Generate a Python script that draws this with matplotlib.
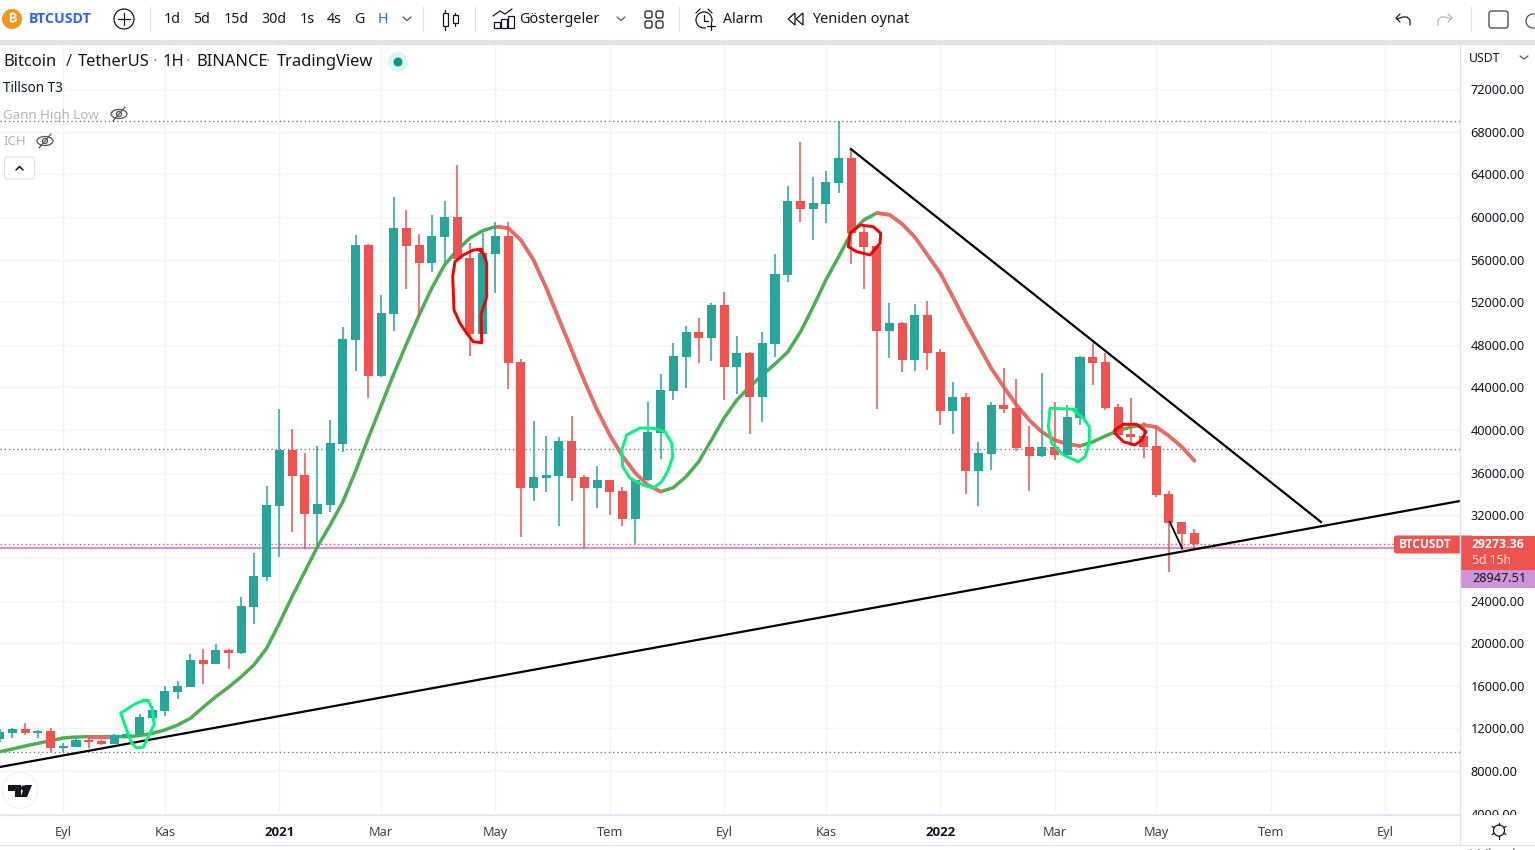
import matplotlib
matplotlib.use("Agg")
import matplotlib.pyplot as plt
from matplotlib.patches import Circle, Rectangle, FancyBboxPatch, Ellipse, Polygon
from matplotlib.transforms import Bbox, TransformedBbox
import numpy as np

plt.rcParams['font.family'] = ['Noto Sans', 'DejaVu Sans']
BOLD_FONT = ['Open Sans', 'DejaVu Sans']

# ---------- data ----------
first_index = -5
opens = [10980,11600,11940,11600,11760,10160,10290,10940,10820,10540,11190,11380,13000,13630,15420,15880,18420,18040,19360,19070,23390,26210,32870,38120,35780,32120,32960,38690,48450,57360,45070,50890,58960,57360,55670,58110,59990,56140,49010,56520,58210,46380,34560,35500,35680,38970,35590,34560,35310,34280,31650,35310,39720,43660,46850,49200,48630,51730,45910,47230,43100,48070,54550,61490,60740,61210,63180,65530,58580,57270,49290,50040,46570,50790,47320,41780,43100,36150,37750,42350,42070,38410,37560,38410,37660,41130,46850,46380,42160,39630,39440,38500,34000,31370,30340]
highs = [11940,12070,12530,11850,12040,10600,11170,11350,10910,11470,11570,13350,14100,15980,16450,18980,19450,19920,19450,24330,28460,34750,41970,40090,37840,38500,40940,49670,58300,57460,52670,61870,60650,58390,60180,61490,64870,57550,58490,59520,59520,46660,40850,39440,39340,41320,35780,36620,35310,34650,35310,42630,45260,48170,49760,50510,51920,52950,48820,47320,49200,56520,62900,67030,63740,64310,69000,66460,59240,57270,51920,50140,51830,52110,47600,44510,43470,38880,42630,45820,44790,40380,45350,42630,42350,46950,48170,47230,42440,43000,40750,40470,34280,31370,30710]
lows = [10720,11100,11380,11100,9810,9810,10290,10160,10410,10540,11100,11380,13000,13190,14760,15880,16170,18040,17570,18980,21800,25830,28080,30430,28830,29120,32310,37940,45540,43000,44970,49290,53230,50600,54830,55480,55950,46950,49010,52860,43850,29960,33340,34180,30990,33340,28830,32680,32020,30990,29300,35220,37280,42820,43940,46290,46480,42820,43380,39630,40750,46850,53890,59520,57830,59430,62240,55580,53230,41970,46760,45440,45540,45630,40470,39630,34000,32870,36250,41600,38030,34280,37470,37190,37660,40470,44220,41880,39440,38500,37370,33710,26680,28740,28830]
closes = [11690,11940,11570,11780,10190,10350,10910,10750,10540,11350,11470,13070,13730,15510,15980,18420,18040,19360,19070,23490,26300,32960,38120,35680,32120,33060,38780,48540,57360,45070,50980,58960,57270,55670,58210,59990,56050,49010,56610,58210,46290,34560,35590,35780,38970,35500,34560,35310,34180,31650,35310,39810,43750,46950,49200,48630,51730,45910,47230,43100,48170,54640,61490,60740,61300,63270,65530,58490,57170,49290,50040,46570,50790,47230,41780,43100,36150,37840,42350,41970,38310,37560,38410,37660,41220,46850,46290,42070,39530,39340,38410,33900,31280,30240,29270]
tillson = [9810,10070,10350,10600,10845,11100,11190,11220,11220,11220,11220,11315,11540,11850,12320,12950,13980,14970,15860,16850,17950,19520,21860,24360,26700,29050,31090,33270,36150,39250,42250,45260,48070,50790,53330,55480,56890,58020,58700,59080,58960,57830,55950,53330,50420,47510,44600,41880,39530,37560,35970,34840,34210,34590,35620,37030,39060,41130,42820,44040,45160,46190,47320,49200,51540,54080,56240,58490,59710,60360,60200,59330,58110,56420,54730,52480,50140,47980,45820,44040,42350,40940,39810,39060,38690,38500,38880,39440,39940,40280,40470,40280,39440,38430,37120]
tillson_red_spans = [(2, 4), (34, 47), (64, 80), (85, 89)]

price_ticks = list(range(4000, 76000, 4000))
month_ticks = [0, 8, 17, 25, 34, 43, 52, 60, 69, 78, 86, 95, 104]
month_labels = ['Eyl', 'Kas', '2021', 'Mar', 'May', 'Tem', 'Eyl', 'Kas', '2022', 'Mar', 'May', 'Tem', 'Eyl']

levels_dotted = [68980, 38190, 9740]
last_price = 29273.36
gann_price = 28947.51

support_x = [-4.98, 109.9]
support_y = [8380, 33340]
resistance_x = [61.97, 98.96]
resistance_y = [66370, 31370]
short_x = [87.07, 88.02]
short_y = [31370, 28930]

# ---------- colours ----------
UP = '#26a69a'; DOWN = '#ef5350'
T3_UP = '#4caf50'; T3_DOWN = '#f86464'
GRID = '#f0f3fa'; SEP = '#e0e3eb'; TXT = '#131722'; MUTED = '#b2b5be'
PURPLE = '#ce93d8'; SCRIB_G = '#00f57f'; SCRIB_R = '#f50000'; BLUE = '#2962ff'

W, H = 1535, 850
fig = plt.figure(figsize=(W / 100, H / 100), dpi=100, facecolor='white')

# ---------- main chart ----------
top, bot, right = 44, 814.5, 1460
ax = fig.add_axes([0, 1 - bot / H, right / W, (bot - top) / H])
ax.set_xlim(-4.98, 109.9)
ax.set_ylim(80352 - 93.84 * bot, 80352 - 93.84 * top)
for s in ax.spines.values():
    s.set_visible(False)
ax.set_axisbelow(True)
ax.grid(True, color=GRID, lw=1.0)
ax.yaxis.tick_right()
ax.set_yticks(price_ticks)
ax.set_yticklabels([f'{p}.00' for p in price_ticks], fontsize=9.2, color=TXT)
ax.set_xticks(month_ticks)
ax.set_xticklabels(month_labels, fontsize=9.2, color='#3c4048')
ax.tick_params(axis='both', length=0)
ax.tick_params(axis='y', pad=7.5)
ax.tick_params(axis='x', pad=8)
for lab, txt in zip(ax.get_xticklabels(), month_labels):
    if txt.isdigit():
        lab.set_family(BOLD_FONT)
        lab.set_fontweight('bold')
        lab.set_fontsize(9.6)
        lab.set_color(TXT)
clip = TransformedBbox(Bbox([[0, (H - 815) / H], [1, 1]]), fig.transFigure)
for lab in ax.get_yticklabels():
    lab.set_clip_box(clip)
    lab.set_clip_on(True)

for lv in levels_dotted:
    ax.axhline(lv, color='#787b86', lw=1.0, ls=(0, (1, 2)), zorder=1.5)
ax.axhline(gann_price, color=PURPLE, lw=1.6, zorder=1.6)
ax.axhline(last_price, color=DOWN, lw=1.0, ls=(0, (1, 2)), zorder=1.6)

idx = np.arange(first_index, first_index + len(opens))
o, h, l, c = map(np.array, (opens, highs, lows, closes))
colors = [UP if cc >= oo else DOWN for oo, cc in zip(o, c)]

t3 = np.array(tillson)
ax.plot(idx, t3, color=T3_UP, lw=2.5, zorder=2, solid_capstyle='round', solid_joinstyle='round')
for a, b in tillson_red_spans:
    m = (idx >= a) & (idx <= b)
    ax.plot(idx[m], t3[m], color=T3_DOWN, lw=2.5, zorder=2.1, solid_capstyle='round', solid_joinstyle='round')

ax.vlines(idx, l, h, colors=colors, lw=1.1, zorder=3)
ax.bar(idx, np.abs(c - o), bottom=np.minimum(o, c), width=0.71, color=colors, lw=0, zorder=3.1)

ax.plot(support_x, support_y, color='black', lw=1.6, zorder=4, clip_on=True)
ax.plot(resistance_x, resistance_y, color='black', lw=1.6, zorder=4)
ax.plot(short_x, short_y, color='black', lw=1.3, zorder=4)

# ---------- overlay drawn in screen pixels (chrome and hand-drawn marks) ----------
ov = fig.add_axes([0, 0, 1, 1], zorder=10)
ov.set_xlim(0, W); ov.set_ylim(H, 0); ov.axis('off'); ov.patch.set_alpha(0)

def T(x, y, s, size=10, color=TXT, ha='left', weight='normal', **k):
    ov.text(x, y, s, fontsize=size, color=color, ha=ha, va='center', fontweight=weight, **k)

def L(xs, ys, color=TXT, lw=1.0, **k):
    ov.plot(xs, ys, color=color, lw=lw, solid_capstyle='round', **k)

# scribbles
scribbles = [
    (SCRIB_G, [(146.7,700),(136.7,703),(120.7,713),(126.7,730),(131.7,743),(136.7,748),(143.3,747),(150,733),(154,725),(152.7,710),(148.3,700.7),(143,700)]),
    (SCRIB_R, [(481.7,249.3),(473.3,250),(463.3,255),(455,261.7),(452.7,276.7),(454,310),(460,323.3),(466.7,333.3),(473.3,341.7),(481.7,342.7),(481,315),(486.7,296.7),(486.7,263.3),(483.3,253.3),(478.3,249.3)]),
    (SCRIB_G, [(653.3,428.3),(640,428),(626.7,435),(621.7,450),(622.7,466.7),(630,478.3),(643.3,485),(653.3,488.3),(661.7,481.7),(668.3,470),(672.7,456.7),(671.7,443.3),(665,431.7),(653.3,428.3)]),
    (SCRIB_R, [(848.3,246.7),(850,233.3),(860,225),(873.3,226.7),(880.7,233.3),(880,243.3),(870,255),(856.7,251.7),(848.3,246.7)]),
    (SCRIB_G, [(1076.7,409.3),(1050,408.3),(1048.3,426.7),(1051.7,443.3),(1063.3,455),(1078.3,461.7),(1085,456.7),(1089.3,443.3),(1089.3,426.7),(1083.3,418.3),(1073.3,410)]),
    (SCRIB_R, [(1115,430),(1123.3,424.3),(1136.7,424.3),(1146,431.7),(1141.7,440),(1135,445),(1123.3,441.7),(1115,433.3),(1115,430)]),
]
for col, pts in scribbles:
    xs, ys = zip(*pts)
    L(xs, ys, color=col, lw=2.1, solid_joinstyle='round')

# frame
ov.add_patch(Rectangle((0, 0), W, 40, fc='white', ec='none'))
ov.add_patch(Rectangle((0, 40), W, 4.5, fc=SEP, ec='none'))
L([0, 1460], [814.8, 814.8], color=SEP, lw=1.0)
L([1460, 1460], [44, 845], color=SEP, lw=1.0)
L([0, W], [845.3, 845.3], color=SEP, lw=1.0)
ov.add_patch(Rectangle((0, 846), W, 4, fc='white', ec='none'))
T(1470, 858, 'Wind', size=14, color='#9a9a9a')

# toolbar
ov.add_patch(Circle((12, 19), 10, fc='#f7931a', ec='none'))
T(12, 19, '₿', size=9, color='white', ha='center', weight='bold', family=['Inter', 'Roboto', 'Lato', 'Open Sans', 'DejaVu Sans'])
T(29, 19, 'BTCUSDT', size=10.2, color=BLUE, weight='bold', family=BOLD_FONT)
ov.add_patch(Circle((124, 19), 10, fc='none', ec=TXT, lw=0.9))
L([118, 130], [19, 19], lw=0.9); L([124, 124], [13, 25], lw=0.9)
for x in (150, 423, 475, 679, 1471):
    L([x, x], [7, 31], color=SEP, lw=0.9)
for s, x, col in [('1d', 172.5, TXT), ('5d', 202, TXT), ('15d', 236, TXT), ('30d', 274, TXT),
                  ('1s', 307, TXT), ('4s', 334, TXT), ('G', 359, TXT), ('H', 383, BLUE)]:
    T(x, 19.5, s, size=10.2, color=col, ha='center')
for cx in (407, 621):
    L([cx - 4, cx, cx + 4], [17, 20.5, 17], color='#50535e', lw=0.9)
L([1520, 1524, 1528], [56, 59, 56], color='#50535e', lw=0.9)
# candle icon
for cx, y0, y1, b0, b1 in [(445, 10, 30, 13, 26), (455, 13, 26, 15, 23)]:
    L([cx, cx], [y0, y1], lw=0.9)
    ov.add_patch(Rectangle((cx - 2.5, b0), 5, b1 - b0, fc='white', ec=TXT, lw=0.9, zorder=5))
# indicators icon
for x0, hh in [(494, 6), (501, 9), (508, 12)]:
    ov.add_patch(Rectangle((x0, 28 - hh), 6, hh, fc='white', ec=TXT, lw=0.9))
L([493, 500, 505, 512], [16, 11, 14, 9], lw=0.9)
T(519, 19.5, 'Göstergeler', size=10.4)
for x0 in (645, 656):
    for y0 in (11, 21):
        ov.add_patch(FancyBboxPatch((x0 + 1, y0 + 1), 5, 5, boxstyle='round,pad=1,rounding_size=2', fc='none', ec=TXT, lw=0.9))
# alarm
ov.add_patch(Circle((704, 20), 8, fc='none', ec=TXT, lw=0.9))
L([704, 704, 708], [15, 21, 21], lw=0.9)
L([696, 700], [13, 9], lw=0.9); L([708, 712], [9, 13], lw=0.9)
ov.add_patch(Rectangle((706, 22), 10, 8, fc='white', ec='none'))
L([711, 711], [22, 30], lw=0.9); L([707, 715], [26, 26], lw=0.9)
T(723, 19.5, 'Alarm', size=10.2)
for dx in (788, 796):
    ov.add_patch(Polygon([(dx + 7, 13), (dx, 19), (dx + 7, 25)], closed=True, fc='none', ec=TXT, lw=0.9))
T(812, 19.5, 'Yeniden oynat', size=10.4)
# undo / redo / layout / cloud
L([1397, 1403, 1407, 1410, 1410], [19, 17, 17, 20, 25], lw=0.9)
L([1400, 1396, 1400], [14, 18, 22], lw=0.9)
L([1451, 1445, 1441, 1438, 1438], [19, 17, 17, 20, 25], color=MUTED, lw=0.9)
L([1448, 1452, 1448], [14, 18, 22], color=MUTED, lw=0.9)
ov.add_patch(FancyBboxPatch((1489, 11), 19, 17, boxstyle='round,pad=0,rounding_size=2.5', fc='none', ec='#50535e', lw=1.0))
ov.add_patch(Circle((1533, 21), 7, fc='none', ec='#50535e', lw=0.9))

# legend
TS = 11.9
T(3, 61.5, 'Bitcoin', size=TS)
T(66, 61.5, '/', size=TS, color='#2a2e39')
T(78, 61.5, 'TetherUS', size=TS)
T(153, 61.5, '·', size=TS, color='#9598a1')
T(163, 61.5, '1H', size=TS)
T(186, 61.5, '·', size=TS, color='#9598a1')
T(196, 61.5, 'BINANCE', size=TS)
T(266, 61.5, '·', size=TS, color='#9598a1')
T(277, 61.5, 'TradingView', size=TS)
ov.add_patch(Circle((398, 62), 10, fc='#e0f3ef', ec='none'))
ov.add_patch(Circle((398, 62), 4.5, fc='#089981', ec='none'))
T(3, 88.5, 'Tillson T3', size=9.8)
T(3, 115, 'Gann High Low', size=9.6, color=MUTED)
T(3, 141.5, 'ICH', size=9.6, color=MUTED)
for cx, cy in [(119, 114), (45, 141)]:
    ov.add_patch(Ellipse((cx, cy), 16, 9, fc='none', ec='#50535e', lw=0.9))
    ov.add_patch(Circle((cx, cy), 2.5, fc='none', ec='#50535e', lw=0.9))
    L([cx - 6, cx + 6], [cy + 7, cy - 7], color='#50535e', lw=0.9)
ov.add_patch(FancyBboxPatch((4.5, 157), 30, 22, boxstyle='round,pad=0,rounding_size=2.5', fc='white', ec=SEP, lw=0.9))
L([16, 19.5, 23], [170, 166.5, 170], lw=1.1)

# TV logo
ov.add_patch(Circle((20, 790.5), 18, fc='white', ec=GRID, lw=1.0))
ov.add_patch(Polygon([(8, 785), (20.5, 785), (20.5, 797), (14.5, 797), (14.5, 790.5), (8, 790.5)], closed=True, fc=TXT, ec='none'))
ov.add_patch(Circle((23.5, 788), 2.6, fc=TXT, ec='none'))
ov.add_patch(Polygon([(25, 785), (32, 785), (27, 797), (20.5, 797)], closed=True, fc=TXT, ec='none'))

# unit
T(1469, 58, 'USDT', size=8.8)

# price tags
ov.add_patch(FancyBboxPatch((1394, 535.5), 80, 18, boxstyle='round,pad=0,rounding_size=2.5', fc=DOWN, ec='none'))
ov.add_patch(Rectangle((1460, 535.5), 75, 34, fc=DOWN, ec='none'))
ov.add_patch(Rectangle((1460, 569.5), 75, 18.5, fc=PURPLE, ec='none'))
T(1399, 545, 'BTCUSDT', size=8.6, color='white', weight='bold', family=BOLD_FONT)
T(1472, 545, f'{last_price:.2f}', size=8.8, color='white', weight='bold', family=BOLD_FONT)
T(1472, 560, '5d 15h', size=8.8, color='#fde0df')
T(1472, 578.5, f'{gann_price:.2f}', size=9.2, color=TXT)

# gear
ov.add_patch(Circle((1499, 830.5), 5.5, fc='none', ec=TXT, lw=0.9))
for a in np.deg2rad(np.arange(0, 360, 60) + 30):
    L([1499 + 5.5 * np.cos(a), 1499 + 8 * np.cos(a)], [830.5 + 5.5 * np.sin(a), 830.5 + 8 * np.sin(a)], lw=0.9)

fig.savefig('out.png', dpi=100)
